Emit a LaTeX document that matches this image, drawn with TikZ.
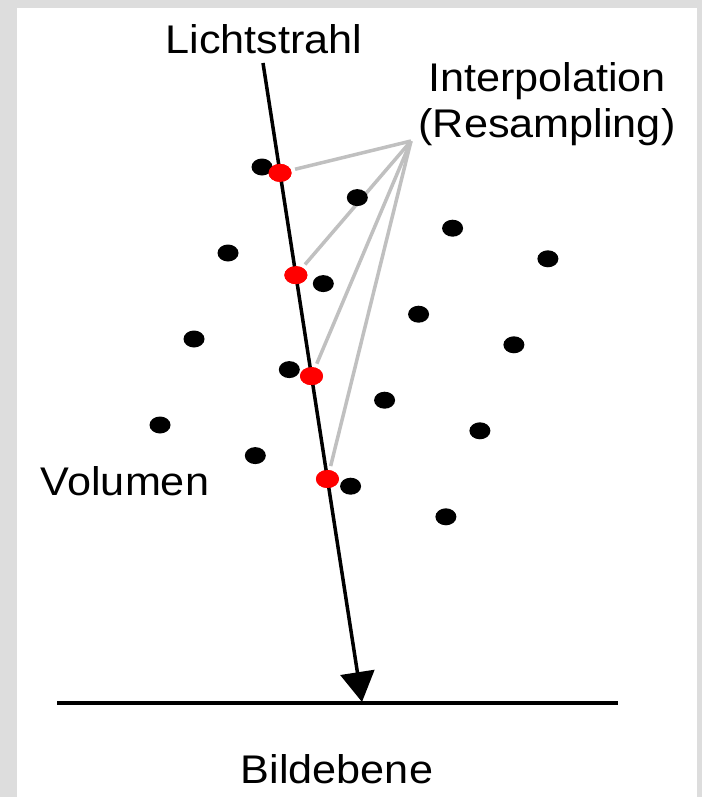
\documentclass[tikz,border=0pt]{standalone}
\usepackage{fontspec}
\setmainfont[FakeStretch=1.08]{Liberation Sans}
\usetikzlibrary{arrows.meta, shapes.geometric}
\definecolor{framegray}{HTML}{DDDDDD}
\definecolor{linegray}{HTML}{C0C0C0}

\begin{document}
\begin{tikzpicture}[
    x=1pt, y=-1pt, >={Triangle[length=30pt, width=34pt]},
    voxel/.style={ellipse, fill=black, inner sep=0pt,
                  minimum width=21pt, minimum height=17pt},
    sample/.style={voxel, fill=red, minimum width=23pt, minimum height=18pt},
    lbl/.style={font=\fontsize{40}{46}\selectfont, inner sep=0pt,
                anchor=base, align=center}
  ]
  \fill[framegray] (0,0) rectangle (702,797);
  \fill[white] (17,8) rectangle (697,797);

  \coordinate (start) at (263,63);
  \coordinate (tip) at (362,702);
  \coordinate (apex) at (411,141);
  \coordinate (pl) at (57,703);
  \coordinate (pr) at (618,703);

  \path (start) -- (tip)
    node[pos=0.172, sample] (s1) {}
    node[pos=0.332, sample] (s2) {}
    node[pos=0.490, sample] (s3) {}
    node[pos=0.651, sample] (s4) {};

  \foreach \s in {s1,s2,s3,s4}
    \draw[linegray, line width=3.5pt, shorten >=4pt] (apex) -- (\s);

  \draw[->, line width=3.5pt] (start) -- (tip);
  \draw[line width=3.5pt] (pl) -- (pr);

  \foreach \i in {0,...,3}
    \foreach \j in {0,...,3}
      \node[voxel] (v\i\j) at ({262+95.3*\j-34*\i}, {167+30.6*\j+86*\i}) {};

  \foreach \s in {s1,s2,s3,s4}
    \node[sample] at (\s) {};

  \node[lbl] (ray) at (264,54) {Lichtstrahl};
  \node[lbl] (interp) at (547,138) {Interpolation\\(Resampling)};
  \node[lbl] (vol) at (125,495) {Volumen};
  \node[lbl] (plane) at (337,783) {Bildebene};
\end{tikzpicture}
\end{document}
